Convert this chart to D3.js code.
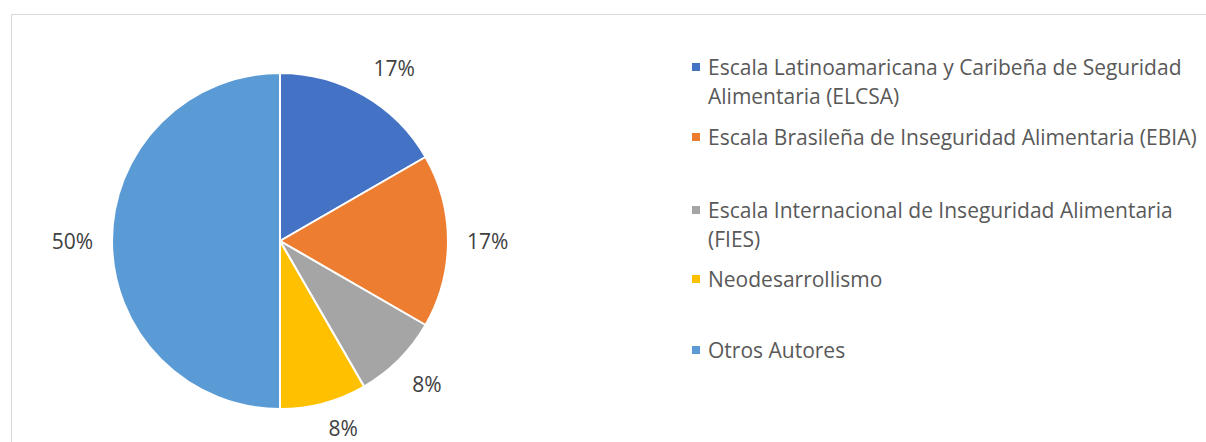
<!DOCTYPE html>
<html>
<head>
<meta charset="utf-8">
<script src="https://cdn.jsdelivr.net/npm/d3@7"></script>
<style>
  body { margin: 0; background: #fff; }
  text { font-family: "Open Sans", "Noto Sans", sans-serif; }
</style>
</head>
<body>
<div id="chart"></div>
<script>
// data
var categories = [
    ["Escala Latinoamaricana y Caribeña de Seguridad", "Alimentaria (ELCSA)"],
    ["Escala Brasileña de Inseguridad Alimentaria (EBIA)"],
    ["Escala Internacional de Inseguridad Alimentaria", "(FIES)"],
    ["Neodesarrollismo"],
    ["Otros Autores"]
];
var values = [2, 2, 1, 1, 6];
var colors = ["#4472C4", "#ED7D31", "#A5A5A5", "#FFC000", "#5B9BD5"];

function init(){
    var w = 1206;
    var h = 442;
    var cx = 280, cy = 241, r = 168;
    var labelR = 187;
    var fontSize = 21;
    var legendX = 692;
    var legendY = [67, 137, 210, 279, 350];
    var lineH = 29;

    var svg = d3.select("#chart")
                .append("svg")
                .attr("width", w)
                .attr("height", h);

    // chart frame
    svg.append("rect")
        .attr("x", 11.5).attr("y", 14.5)
        .attr("width", 1200).attr("height", 440)
        .attr("fill", "none")
        .attr("stroke", "#d9d9d9")
        .attr("stroke-width", 1);

    var total = d3.sum(values);
    var pie = d3.pie().sort(null).value(function(d) { return d; });
    var arcs = pie(values);

    var arc = d3.arc().innerRadius(0).outerRadius(r);

    var g = svg.append("g").attr("transform", "translate(" + cx + "," + cy + ")");

    g.selectAll("path")
        .data(arcs)
        .enter().append("path")
        .attr("d", arc)
        .attr("fill", function(d, i) { return colors[i]; })
        .attr("stroke", "#fff")
        .attr("stroke-width", 2);

    // labels: nearest corner of label box sits just outside the pie
    g.selectAll("text.lbl")
        .data(arcs)
        .enter().append("text")
        .attr("class", "lbl")
        .attr("text-anchor", "middle")
        .attr("font-size", fontSize)
        .attr("fill", "#404040")
        .text(function(d) { return Math.round(d.value / total * 100) + "%"; })
        .attr("transform", function(d) {
            var a = (d.startAngle + d.endAngle) / 2;
            var sx = Math.sin(a), sy = -Math.cos(a);
            var bw = this.getComputedTextLength();
            var bh = 22;
            var dx = Math.abs(sx) < 0.1 ? 0 : Math.sign(sx);
            var dy = Math.abs(sy) < 0.1 ? 0 : Math.sign(sy);
            var x = sx * labelR + dx * bw / 2;
            var y = Math.min(sy * labelR + dy * bh / 2 + 7.5, h - cy - 6);
            return "translate(" + x + "," + y + ")";
        });

    // legend
    var leg = svg.selectAll("g.leg")
        .data(categories)
        .enter().append("g")
        .attr("class", "leg")
        .attr("transform", function(d, i) { return "translate(" + legendX + "," + legendY[i] + ")"; });

    leg.append("rect")
        .attr("x", 0).attr("y", -4)
        .attr("width", 8).attr("height", 8)
        .attr("fill", function(d, i) { return colors[i]; });

    leg.append("text")
        .attr("x", 16)
        .attr("font-size", fontSize)
        .attr("fill", "#595959")
        .selectAll("tspan")
        .data(function(d) { return d; })
        .enter().append("tspan")
        .attr("x", 16)
        .attr("y", function(d, j) { return j * lineH + 7.5; })
        .text(function(d) { return d; });
}
window.onload = init;
</script>
</body>
</html>
